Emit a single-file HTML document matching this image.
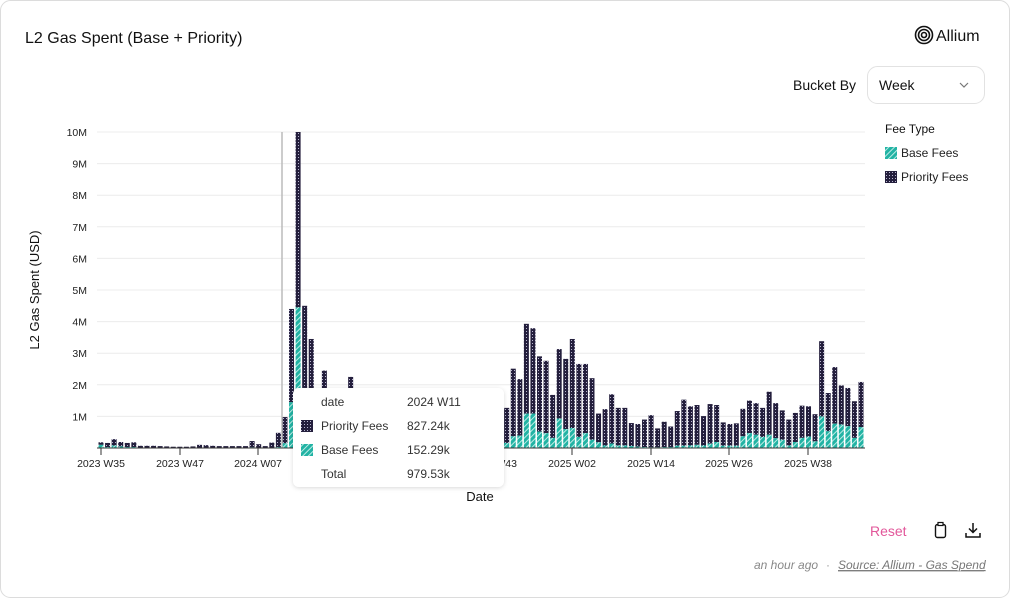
<!DOCTYPE html>
<html><head><meta charset="utf-8"><style>
body{margin:0;background:#fff;font-family:"Liberation Sans",sans-serif;}
svg{display:block}
</style></head><body>
<svg id="s" width="1010" height="598" viewBox="0 0 1010 598" xmlns="http://www.w3.org/2000/svg" font-family="Liberation Sans, sans-serif">
<defs>
<pattern id="dots" width="3" height="3" patternUnits="userSpaceOnUse">
<rect width="3" height="3" fill="#241f3d"/><rect x="1" y="1" width="1" height="1" fill="#b9b6d0"/>
</pattern>
<pattern id="stripes" width="4" height="4" patternUnits="userSpaceOnUse" patternTransform="rotate(45)">
<rect width="4" height="4" fill="#22b3a4"/><rect width="1" height="4" fill="#bdebe5"/>
</pattern>
<filter id="sh" x="-10%" y="-10%" width="120%" height="130%"><feDropShadow dx="0" dy="1" stdDeviation="2" flood-color="#000" flood-opacity="0.15"/></filter>
</defs>
<rect x="0.5" y="0.5" width="1009" height="597" rx="10" fill="#fff" stroke="#dcdcdc"/>
<text x="25" y="43" font-size="16" fill="#111">L2 Gas Spent (Base + Priority)</text>
<g fill="none" stroke="#111" stroke-width="1.6"><circle cx="924" cy="35" r="8.5"/><circle cx="924" cy="35" r="5.5"/><circle cx="924" cy="35" r="2.5"/></g>
<text x="936" y="41" font-size="16" fill="#111">Allium</text>
<text x="793" y="90" font-size="14" fill="#111">Bucket By</text>
<rect x="867.5" y="66.5" width="117" height="37" rx="10" fill="#fff" stroke="#e2e2e2"/>
<text x="879" y="90" font-size="14" fill="#111">Week</text>
<path d="M960 83 l4 4 l4 -4" fill="none" stroke="#777" stroke-width="1.2"/>
<text x="885" y="133" font-size="12" fill="#111">Fee Type</text>
<rect x="885" y="147" width="12" height="12" fill="url(#stripes)"/>
<text x="901" y="157" font-size="12" fill="#222">Base Fees</text>
<rect x="885" y="171" width="12" height="12" fill="url(#dots)"/>
<text x="901" y="181" font-size="12" fill="#222">Priority Fees</text>
<text transform="translate(39,290) rotate(-90)" text-anchor="middle" font-size="13" fill="#111">L2 Gas Spent (USD)</text>
<g id="grid"></g>
<g id="bars"></g>
<line x1="282" y1="132" x2="282" y2="448" stroke="#bbb" stroke-width="1.5"/>
<line x1="97" y1="448" x2="865" y2="448" stroke="#333" stroke-width="1"/>
<g font-size="10.5" fill="#222" text-anchor="middle">
<line x1="101" y1="448" x2="101" y2="455" stroke="#333"/><text x="101" y="467">2023 W35</text>
<line x1="180" y1="448" x2="180" y2="455" stroke="#333"/><text x="180" y="467">2023 W47</text>
<line x1="258" y1="448" x2="258" y2="455" stroke="#333"/><text x="258" y="467">2024 W07</text>
<line x1="572" y1="448" x2="572" y2="455" stroke="#333"/><text x="572" y="467">2025 W02</text>
<line x1="651" y1="448" x2="651" y2="455" stroke="#333"/><text x="651" y="467">2025 W14</text>
<line x1="729" y1="448" x2="729" y2="455" stroke="#333"/><text x="729" y="467">2025 W26</text>
<line x1="808" y1="448" x2="808" y2="455" stroke="#333"/><text x="808" y="467">2025 W38</text>
<text x="493" y="467">2024 W43</text>
</g>
<text x="480" y="501" font-size="13" fill="#111" text-anchor="middle">Date</text>
<g filter="url(#sh)"><rect x="293" y="388" width="211" height="99" rx="6" fill="#fff"/></g>
<g font-size="12" fill="#333">
<text x="321" y="406">date</text><text x="407" y="406">2024 W11</text>
<rect x="301" y="420" width="12" height="12" fill="url(#dots)"/>
<text x="321" y="430">Priority Fees</text><text x="407" y="430">827.24k</text>
<rect x="301" y="444" width="12" height="12" fill="url(#stripes)"/>
<text x="321" y="454">Base Fees</text><text x="407" y="454">152.29k</text>
<text x="321" y="478">Total</text><text x="407" y="478">979.53k</text>
</g>
<text x="870" y="536" font-size="14" fill="#e2579a">Reset</text>
<rect x="935.5" y="524.5" width="10" height="13" rx="2" fill="none" stroke="#111" stroke-width="1.4"/>
<rect x="938" y="522.5" width="5" height="3" fill="#fff" stroke="#111" stroke-width="1.2"/>
<path d="M973 523 v9 M969 528.5 l4 4 l4 -4 M966 533 v4 h14 v-4" fill="none" stroke="#111" stroke-width="1.5"/>
<text x="754" y="569" font-size="12" fill="#888" font-style="italic">an hour ago</text>
<text x="826" y="569" font-size="12" fill="#999">·</text>
<text x="838" y="569" font-size="12" fill="#777" font-style="italic" text-decoration="underline">Source: Allium - Gas Spend</text>
<line x1="838" y1="571" x2="984" y2="571" stroke="#888" stroke-width="0.8"/>
</svg>
<script>
var NS="http://www.w3.org/2000/svg";
function el(p,t,a){var e=document.createElementNS(NS,t);for(var k in a)e.setAttribute(k,a[k]);p.appendChild(e);return e;}
var g=document.getElementById("grid");
var Y0=448,U=31.6;
for(var m=1;m<=10;m++){var y=Y0-m*U;el(g,"line",{x1:97,x2:865,y1:y,y2:y,stroke:"#ececec"});
var t=el(g,"text",{x:87,y:y+4,"font-size":"10.5",fill:"#222","text-anchor":"end"});t.textContent=m+"M";}
var left=[[0.18,0.1],[0.16,0.03],[0.28,0.08],[0.19,0.05],[0.16,0.03],[0.18,0.03],[0.07,0.01],[0.07,0.01],[0.07,0.01],[0.06,0.01],[0.05,0],[0.04,0],[0.04,0],[0.04,0],[0.05,0],[0.1,0.01],[0.09,0.01],[0.07,0],[0.06,0],[0.06,0],[0.06,0],[0.06,0],[0.06,0],[0.22,0.02],[0.12,0.01],[0.06,0],[0.17,0.01],[0.48,0.03],[0.98,0.15],[4.4,1.45],[10,4.45],[4.5,1.9],[3.45,1.5],[1.5,0.6],[2.45,0.8],[1.5,0.4],[1.2,0.3],[1.2,0.3],[2.25,0.5]];
var b=document.getElementById("bars");
function bar(x,tot,base){var w=5,x0=x-2.5;
var ht=tot*U,hb=base*U;
el(b,"rect",{x:x0,y:Y0-ht,width:w,height:ht-hb,fill:"url(#dots)"});
if(hb>0.3)el(b,"rect",{x:x0,y:Y0-hb,width:w,height:hb,fill:"url(#stripes)"});}
left.forEach(function(d,i){bar(101+i*6.57,d[0],d[1]);});
for(var i=39;i<62;i++)bar(101+i*6.57,1.2,0.2);
var right=[[1.27,0.16],[2.51,0.37],[2.18,0.39],[3.93,1.09],[3.79,1.09],[2.9,0.52],[2.76,0.47],[1.68,0.32],[3.13,0.93],[2.82,0.6],[3.45,0.63],[2.66,0.35],[2.66,0.47],[2.21,0.26],[1.09,0.18],[1.23,0.08],[1.7,0.14],[1.27,0.08],[1.27,0.08],[0.79,0.06],[0.76,0.04],[0.9,0.03],[1.04,0.02],[0.62,0.02],[0.83,0.03],[0.68,0.03],[1.17,0.07],[1.53,0.07],[1.32,0.08],[1.36,0.1],[1.01,0.08],[1.39,0.14],[1.36,0.19],[0.81,0.07],[0.76,0.07],[0.78,0.07],[1.24,0.37],[1.5,0.47],[1.42,0.42],[1.27,0.35],[1.78,0.42],[1.42,0.31],[1.19,0.26],[0.9,0.08],[1.11,0.19],[1.34,0.32],[1.32,0.36],[1.07,0.21],[3.38,1.0],[1.74,0.53],[2.56,0.77],[1.98,0.74],[1.9,0.69],[1.48,0.32],[2.09,0.66]];
right.forEach(function(d,i){bar(506.7+i*(354.3/(right.length-1)),d[0],d[1]);});
</script>
</body></html>
